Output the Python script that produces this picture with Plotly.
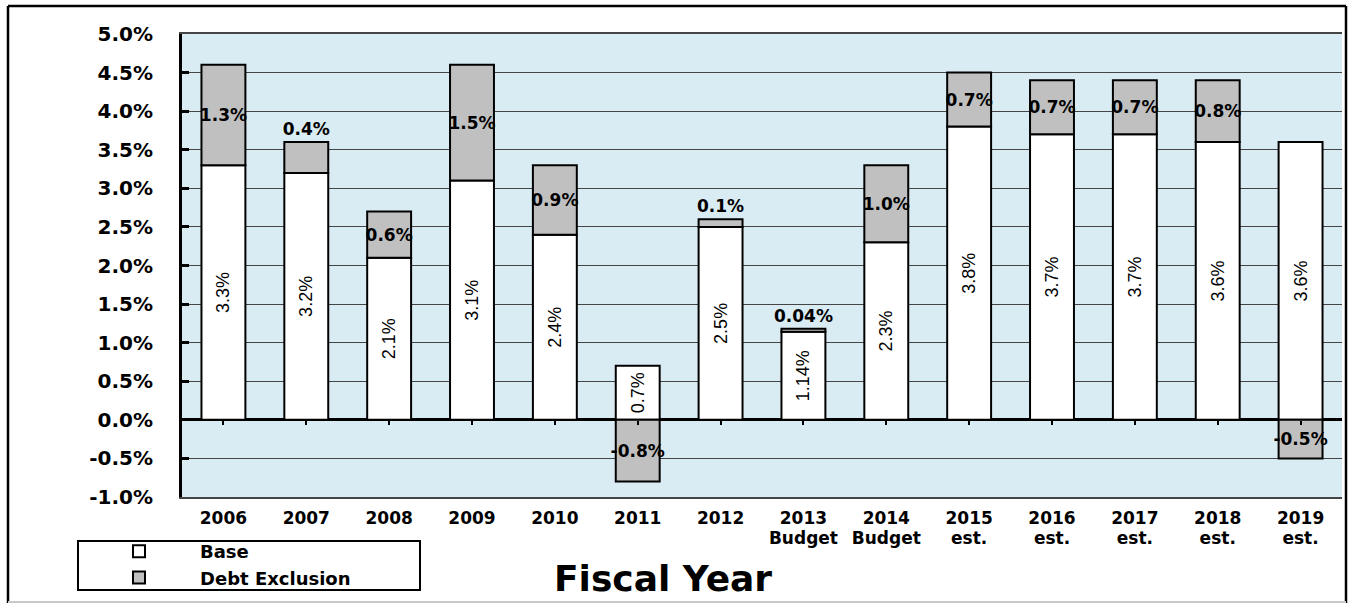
import plotly.graph_objects as go

# Fiscal years and their status (second line under each year)
years = ["2006", "2007", "2008", "2009", "2010", "2011", "2012",
         "2013", "2014", "2015", "2016", "2017", "2018", "2019"]
status = ["", "", "", "", "", "", "",
          "Budget", "Budget", "est.", "est.", "est.", "est.", "est."]

# Levy growth components, in percent
base = [3.3, 3.2, 2.1, 3.1, 2.4, 0.7, 2.5, 1.14, 2.3, 3.8, 3.7, 3.7, 3.6, 3.6]
debt_exclusion = [1.3, 0.4, 0.6, 1.5, 0.9, -0.8, 0.1, 0.04, 1.0, 0.7, 0.7, 0.7, 0.8, -0.5]
label_decimals = [1, 1, 1, 1, 1, 1, 1, 2, 1, 1, 1, 1, 1, 1]

y_ticks = [-1.0, -0.5, 0.0, 0.5, 1.0, 1.5, 2.0, 2.5, 3.0, 3.5, 4.0, 4.5, 5.0]

# ---- page geometry (pixels) ----
W_PX, H_PX = 1355, 605
PL, PR, PT, PB = 182, 1342, 34, 497          # plot area edges
PW, PH = PR - PL, PB - PT


def px_x(px):
    return (px - PL) / PW


def px_y(py):
    return (PB - py) / PH


Y_MIN, Y_MAX = y_ticks[0], y_ticks[-1]
zero_frac = (0 - Y_MIN) / (Y_MAX - Y_MIN)
x_range = [-0.5, len(years) - 0.5]

BOLD_WIDE = "DejaVu Sans"
ARIAL = "Arial, Liberation Sans, sans-serif"
GRID = "#454545"


def fmt(v, d):
    return f"{v:.{d}f}%"


base_text = [fmt(v, d) for v, d in zip(base, label_decimals)]
debt_text = [fmt(v, d) for v, d in zip(debt_exclusion, label_decimals)]
debt_pos = ["outside" if abs(v) < 0.5 else "inside" for v in debt_exclusion]
y_tick_text = [f"{v:.1f}%" for v in y_ticks]

fig = go.Figure()

fig.add_trace(go.Bar(
    name="Base",
    x=years, y=base,
    marker=dict(color="white", line=dict(color="black", width=2)),
    text=base_text, textposition="inside", insidetextanchor="middle",
    textangle=-90, constraintext="none",
    textfont=dict(family=ARIAL, size=18, color="black"),
))

fig.add_trace(go.Bar(
    name="Debt Exclusion",
    x=years, y=debt_exclusion,
    marker=dict(color="#c0c0c0", line=dict(color="black", width=2)),
    text=debt_text, textposition=debt_pos, insidetextanchor="middle",
    textangle=0, constraintext="none", cliponaxis=False,
    textfont=dict(family=BOLD_WIDE, size=17, color="black", weight="bold"),
))

# empty carriers for the overlay axes (zero-line ticks, status row)
for ax in ("x2", "x3"):
    fig.add_trace(go.Scatter(x=years, y=[None] * len(years), xaxis=ax, yaxis="y",
                             mode="markers", showlegend=False, hoverinfo="skip"))

# outer frame around the whole graphic
frame = [
    dict(x0=px_x(8), x1=px_x(8), y0=px_y(6), y1=px_y(603), color="black", width=2.5),
    dict(x0=px_x(8), x1=px_x(1346), y0=px_y(6), y1=px_y(6), color="black", width=2.5),
    dict(x0=px_x(1346), x1=px_x(1346), y0=px_y(6), y1=px_y(603), color="black", width=2.5),
    dict(x0=px_x(8), x1=px_x(1346), y0=px_y(602), y1=px_y(602), color="#c8c8c8", width=2),
]
shapes = [dict(type="line", xref="paper", yref="paper",
               x0=f["x0"], x1=f["x1"], y0=f["y0"], y1=f["y1"],
               line=dict(color=f["color"], width=f["width"])) for f in frame]
# legend box
shapes.append(dict(type="rect", xref="paper", yref="paper",
                   x0=px_x(78), x1=px_x(420), y0=px_y(541), y1=px_y(590),
                   line=dict(color="black", width=2), fillcolor="rgba(0,0,0,0)"))

tick_font = dict(family=BOLD_WIDE, size=17, color="black", weight="bold")

fig.update_layout(
    width=W_PX, height=H_PX,
    autosize=False,
    margin=dict(l=PL, r=W_PX - PR, t=PT, b=H_PX - PB, pad=0, autoexpand=False),
    paper_bgcolor="white",
    plot_bgcolor="#daecf3",
    barmode="relative",
    bargap=0.47,
    showlegend=True,
    legend=dict(
        x=px_x(78), y=px_y(533), xanchor="left", yanchor="top",
        orientation="v", traceorder="normal",
        itemwidth=112, borderwidth=0, bgcolor="rgba(0,0,0,0)",
        font=dict(family=BOLD_WIDE, size=18, color="black", weight="bold"),
        tracegroupgap=0,
    ),
    xaxis=dict(
        type="category", range=x_range,
        showgrid=False, zeroline=False,
        showline=True, mirror=True, linecolor=GRID, linewidth=1.5,
        ticks="", ticklabelstandoff=5, automargin=False,
        tickfont=tick_font,
    ),
    # category tick marks along the zero line
    xaxis2=dict(
        overlaying="x", matches="x", anchor="free", position=zero_frac,
        showticklabels=False, ticks="outside", ticklen=4, tickwidth=2,
        tickcolor="black", showgrid=False, zeroline=False, showline=False,
    ),
    # status line under each year
    xaxis3=dict(
        overlaying="x", matches="x", anchor="y", side="bottom",
        tickmode="array", tickvals=years, ticktext=status,
        ticks="", showgrid=False, zeroline=False, showline=False,
        ticklabelstandoff=29, automargin=False,
        tickfont=tick_font,
    ),
    yaxis=dict(
        range=[Y_MIN, Y_MAX], tickmode="array", tickvals=y_ticks, ticktext=y_tick_text,
        showgrid=True, gridcolor=GRID, gridwidth=1,
        zeroline=True, zerolinecolor="black", zerolinewidth=3,
        showline=True, linecolor="black", linewidth=3,
        ticks="inside", ticklen=7, tickwidth=3, tickcolor="black",
        ticklabelstandoff=22, automargin=False,
        tickfont=dict(family=BOLD_WIDE, size=20, color="black", weight="bold"),
    ),
    shapes=shapes,
    annotations=[dict(
        text="Fiscal Year", xref="paper", yref="paper",
        x=px_x(663), y=px_y(578), xanchor="center", yanchor="middle",
        showarrow=False,
        font=dict(family=BOLD_WIDE, size=36, color="black", weight="bold"),
    )],
)

fig.write_html("out.html")
